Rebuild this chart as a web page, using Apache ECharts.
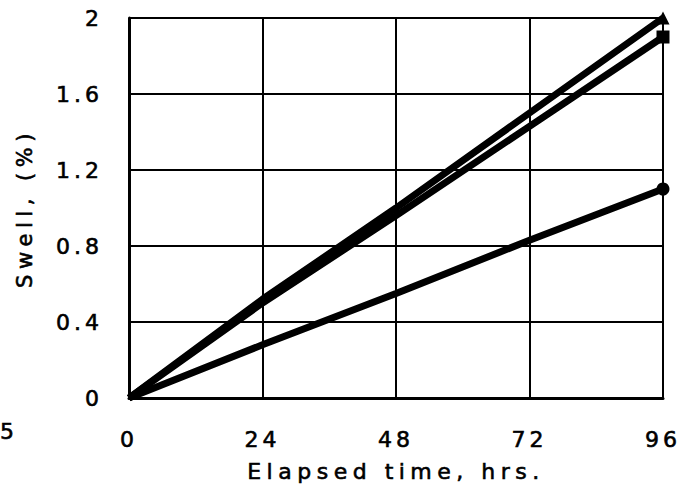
<!DOCTYPE html>
<html>
<head>
<meta charset="utf-8">
<script src="https://cdn.jsdelivr.net/npm/echarts@6/dist/echarts.min.js"></script>
<style>
  html, body { margin: 0; padding: 0; background: #fff; }
  #chart { width: 694px; height: 493px; }
  /* wide, heavy plotter-style lettering */
  #chart text { letter-spacing: 4px; stroke: #000; stroke-width: 0.6px; }
  #chart text.wide { letter-spacing: 5.5px; }
</style>
</head>
<body>
<div id="chart"></div>
<script>
// Swell test: swell (%) versus elapsed time (hrs) for three specimens
const hours = [0, 24, 48, 72, 96];
const swellA = [0, 0.52, 1.0, 1.5, 2.0];    // ends with triangle
const swellB = [0, 0.5, 0.96, 1.43, 1.9];   // ends with square
const swellC = [0, 0.28, 0.55, 0.83, 1.1];  // ends with circle
const xTicks = [0, 24, 48, 72, 96];
const yTicks = [0, 0.4, 0.8, 1.2, 1.6, 2];
const xTitle = 'Elapsed time, hrs.';
const yTitle = 'Swell, (%)';

const FONT = 'DejaVu Sans';
const ink = '#000';

function pairs(vals, endSymbol) {
  return hours.map((h, i) => ({
    value: [h, vals[i]],
    symbol: i === hours.length - 1 ? endSymbol : 'none',
    symbolSize: i === hours.length - 1 ? 13 : 0
  }));
}

const el = document.getElementById('chart');
const chart = echarts.init(el, null, { renderer: 'svg' });

// axis titles get a little more tracking than the tick labels
chart.on('finished', () => {
  el.querySelectorAll('text').forEach(t => {
    if (t.textContent === xTitle || t.textContent === yTitle) t.classList.add('wide');
  });
});

chart.setOption({
  backgroundColor: '#fff',
  animation: false,
  grid: { left: 129, right: 31, top: 18, bottom: 95 },
  xAxis: {
    type: 'value', min: 0, max: 96, interval: 24,
    name: xTitle, nameLocation: 'middle', nameGap: 62,
    nameTextStyle: { fontFamily: FONT, fontSize: 22, color: ink },
    axisLine: { lineStyle: { color: ink, width: 3 } },
    axisTick: { show: false },
    axisLabel: { fontFamily: FONT, fontSize: 22, color: ink, margin: 30,
      formatter: v => xTicks.includes(v) ? String(v) : '' },
    splitLine: { lineStyle: { color: ink, width: 2 } }
  },
  yAxis: {
    type: 'value', min: 0, max: 2, interval: 0.4,
    name: yTitle, nameLocation: 'middle', nameGap: 94, nameRotate: 90,
    nameTextStyle: { fontFamily: FONT, fontSize: 21, color: ink },
    axisLine: { show: true, lineStyle: { color: ink, width: 3 } },
    axisTick: { show: false },
    axisLabel: { fontFamily: FONT, fontSize: 22, color: ink, margin: 26,
      formatter: v => {
        const t = yTicks.find(y => Math.abs(y - v) < 1e-9);
        return t === undefined ? '' : String(t);
      } },
    splitLine: { lineStyle: { color: ink, width: 2 } }
  },
  graphic: [{
    type: 'text', left: 0, top: 420,
    style: { text: '5', font: '22px "DejaVu Sans"', fill: ink }
  }],
  series: [
    { type: 'line', data: pairs(swellA, 'triangle'), lineStyle: { color: ink, width: 7 },
      itemStyle: { color: ink }, showSymbol: true, z: 3 },
    { type: 'line', data: pairs(swellB, 'rect'), lineStyle: { color: ink, width: 7 },
      itemStyle: { color: ink }, showSymbol: true, z: 3 },
    { type: 'line', data: pairs(swellC, 'circle'), lineStyle: { color: ink, width: 7 },
      itemStyle: { color: ink }, showSymbol: true, z: 3 }
  ]
});
</script>
</body>
</html>
